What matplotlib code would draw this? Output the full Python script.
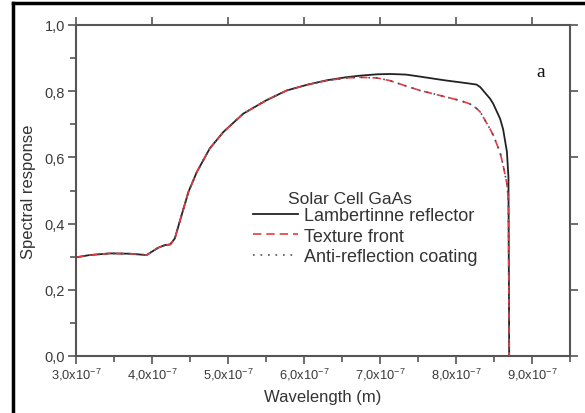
import matplotlib
matplotlib.use("Agg")
import matplotlib.pyplot as plt
from matplotlib.lines import Line2D
from matplotlib.ticker import MultipleLocator, FuncFormatter

# wavelength in units of 1e-7 m
wavelength = [3.00, 3.18, 3.45, 3.71, 3.93, 4.08, 4.17, 4.24, 4.30, 4.39,
              4.48, 4.59, 4.76, 4.94, 5.20, 5.50, 5.77, 6.05, 6.30, 6.55,
              6.74, 6.96, 7.13, 7.26, 7.35, 7.53, 7.79, 7.88, 8.05, 8.18,
              8.27, 8.32, 8.45, 8.49, 8.58, 8.62, 8.67, 8.69, 8.70]

lambertian = [0.298, 0.305, 0.310, 0.309, 0.305, 0.327, 0.335, 0.337, 0.355, 0.426,
              0.496, 0.556, 0.627, 0.677, 0.732, 0.772, 0.802, 0.820, 0.833, 0.842,
              0.847, 0.851, 0.852, 0.851, 0.850, 0.844, 0.835, 0.832, 0.827, 0.823,
              0.820, 0.812, 0.777, 0.762, 0.717, 0.685, 0.617, 0.540, 0.000]

texture = [0.298, 0.305, 0.310, 0.309, 0.305, 0.327, 0.335, 0.337, 0.355, 0.426,
           0.496, 0.556, 0.627, 0.677, 0.732, 0.772, 0.802, 0.820, 0.832, 0.840,
           0.842, 0.840, 0.832, 0.822, 0.815, 0.802, 0.787, 0.782, 0.772, 0.762,
           0.748, 0.737, 0.685, 0.667, 0.615, 0.576, 0.520, 0.470, 0.000]

anti_reflection = [0.298, 0.305, 0.310, 0.309, 0.305, 0.327, 0.335, 0.337, 0.355, 0.426,
                   0.496, 0.556, 0.627, 0.677, 0.732, 0.772, 0.802, 0.820, 0.832, 0.840,
                   0.842, 0.840, 0.832, 0.822, 0.815, 0.802, 0.787, 0.782, 0.772, 0.762,
                   0.748, 0.737, 0.685, 0.667, 0.615, 0.576, 0.520, 0.470, 0.000]

series_labels = ["Lambertinne reflector", "Texture front", "Anti-reflection coating"]
legend_title = "Solar Cell GaAs"

plt.rcParams['font.family'] = ['Liberation Sans', 'DejaVu Sans']
plt.rcParams['mathtext.fontset'] = 'custom'
plt.rcParams['mathtext.rm'] = 'Liberation Sans'
plt.rcParams['mathtext.it'] = 'Liberation Sans'

W, H = 585, 414
fig = plt.figure(figsize=(W / 100, H / 100), dpi=100)
ax = fig.add_axes([76 / W, (H - 357) / H, (570 - 76) / W, (357 - 26) / H])

wl = [w * 1e-7 for w in wavelength]
ax.plot(wl, lambertian, color='#222222', lw=1.3, ls='-', label=series_labels[0], zorder=3)
ax.plot(wl, texture, color='#e8393f', lw=1.2, ls=(0, (5, 3)), label=series_labels[1], zorder=4)
ax.plot(wl, anti_reflection, color='#4a4f66', lw=1.2, ls=(0, (1, 3.5)), label=series_labels[2], zorder=5)

ax.set_xlim(3.0e-7, 9.5e-7)
ax.set_ylim(0.0, 1.0)
ax.xaxis.set_major_locator(MultipleLocator(1e-7))
ax.xaxis.set_minor_locator(MultipleLocator(0.5e-7))
ax.yaxis.set_major_locator(MultipleLocator(0.2))
ax.yaxis.set_minor_locator(MultipleLocator(0.1))

def xfmt(v, pos):
    m = v / 1e-7
    return ("%.1f" % m).replace('.', ',') + r"x10$^{\mathregular{-7}}$"

def yfmt(v, pos):
    return ("%.1f" % v).replace('.', ',')

ax.xaxis.set_major_formatter(FuncFormatter(xfmt))
ax.yaxis.set_major_formatter(FuncFormatter(yfmt))

spine_col = '#555555'
for s in ax.spines.values():
    s.set_color(spine_col)
    s.set_linewidth(1.5)

ax.tick_params(which='both', direction='out', top=True, right=True,
               color=spine_col, labelcolor='#3a3a3a')
ax.tick_params(axis='y', labelsize=10.5)
ax.tick_params(axis='x', labelsize=9.3)
ax.tick_params(which='major', length=6, width=1.2, pad=2)
ax.tick_params(axis='x', which='major', pad=1)
ax.tick_params(which='minor', length=4, width=1.2, top=False, right=False)

ax.set_xlabel("Wavelength (m)", fontsize=12, color='#333333', labelpad=5)
ax.set_ylabel("Spectral response", fontsize=12, color='#333333', labelpad=6)

leg = ax.legend(loc='upper left', bbox_to_anchor=(253 / W, 1 - 208 / H),
                bbox_transform=fig.transFigure,
                frameon=False, fontsize=13, borderpad=0, borderaxespad=0,
                handlelength=2.5, handletextpad=0.35, labelspacing=0.2)
for t in leg.get_texts():
    t.set_color('#333333')

fig.text(288 / W, 1 - 200 / H, legend_title, fontsize=12.5, color='#333333',
         ha='left', va='center')

ax.text(9.12e-7, 0.86, "a", fontsize=14, family='Liberation Serif', color='#111111',
        ha='center', va='center')

# outer frame (left and top)
fig.add_artist(Line2D([13 / W, 13 / W], [0, 1 - 4 / H], transform=fig.transFigure,
                      color='black', lw=2.5))
fig.add_artist(Line2D([13 / W, 1.0], [1 - 4 / H, 1 - 4 / H], transform=fig.transFigure,
                      color='black', lw=2.5))

fig.savefig("out.png", dpi=100)
